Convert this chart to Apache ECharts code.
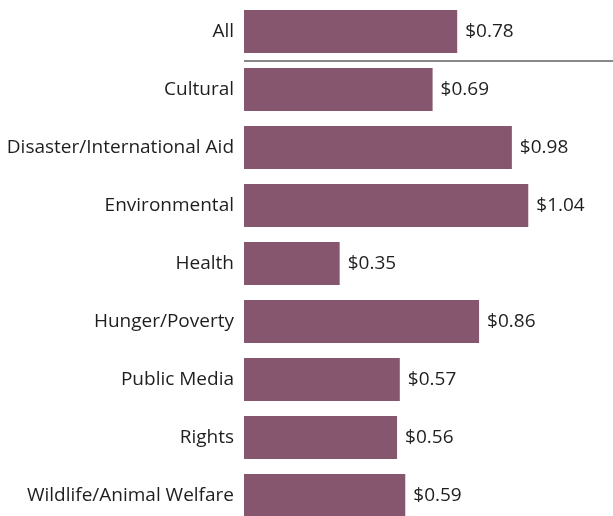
<!DOCTYPE html>
<html>
<head>
<meta charset="utf-8">
<script src="https://cdn.jsdelivr.net/npm/echarts@6/dist/echarts.min.js"></script>
<style>
  html, body { margin: 0; padding: 0; background: #fff; overflow: hidden; }
  #chart { width: 613px; height: 540px; }
</style>
</head>
<body>
<div id="chart"></div>
<script>
var categories = ['All', 'Cultural', 'Disaster/International Aid', 'Environmental', 'Health',
    'Hunger/Poverty', 'Public Media', 'Rights', 'Wildlife/Animal Welfare'];
var values = [0.78, 0.69, 0.98, 1.04, 0.35, 0.86, 0.57, 0.56, 0.59];

var barColor = '#85566d';
var fontName = 'Open Sans';

var option = {
    animation: false,
    grid: {
        left: 244,
        right: 0,
        top: 2.5,
        height: 522
    },
    xAxis: {
        type: 'value',
        min: 0,
        max: 1.35,
        show: false
    },
    yAxis: {
        type: 'category',
        inverse: true,
        data: categories,
        axisLine: { show: false },
        axisTick: { show: false },
        splitLine: { show: false },
        axisLabel: {
            margin: 10,
            color: '#1e1e1e',
            fontSize: 19,
            fontFamily: fontName
        }
    },
    series: [{
        type: 'bar',
        data: values,
        barCategoryGap: '26%',
        itemStyle: { color: barColor },
        label: {
            show: true,
            position: 'right',
            distance: 8,
            color: '#1e1e1e',
            fontSize: 19,
            fontFamily: fontName,
            formatter: function(p) { return '$' + p.value.toFixed(2); }
        }
    }]
};

var myChart = echarts.init(document.getElementById('chart'));
myChart.setOption(option);

// separator between "All" and the rest, placed from the axis scale
function drawSeparator() {
    var y0 = myChart.convertToPixel({ yAxisIndex: 0 }, categories[0]);
    var y1 = myChart.convertToPixel({ yAxisIndex: 0 }, categories[1]);
    var x0 = myChart.convertToPixel({ xAxisIndex: 0 }, 0);
    var ySep = Math.round((y0 + y1) / 2);
    myChart.setOption({
        graphic: [{
            type: 'line',
            shape: { x1: x0, y1: ySep, x2: myChart.getWidth(), y2: ySep },
            style: { stroke: '#888', lineWidth: 2 }
        }]
    });
}
drawSeparator();
window.onresize = function() { myChart.resize(); drawSeparator(); };
</script>
</body>
</html>
